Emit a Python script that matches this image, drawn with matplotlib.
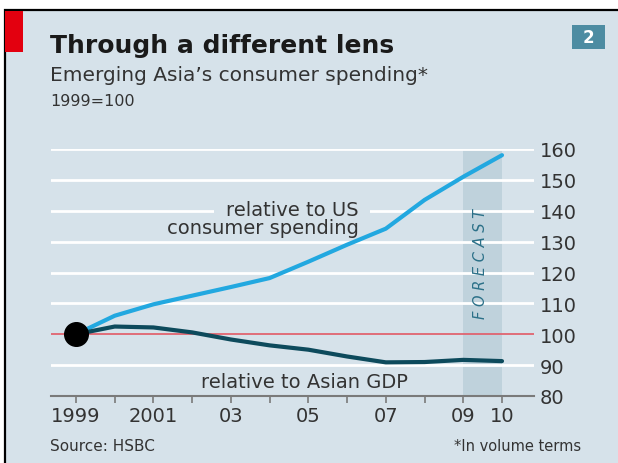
import matplotlib.pyplot as plt
from matplotlib.patches import Rectangle

years = [1999, 2000, 2001, 2002, 2003, 2004, 2005, 2006, 2007, 2008, 2009, 2010]
vs_us = [100, 106, 109.7, 112.5, 115.3, 118.2, 123.5, 129, 134.2, 143.5, 151, 158]
vs_gdp = [100, 102.5, 102.2, 100.6, 98.3, 96.4, 95, 92.8, 90.9, 91, 91.7, 91.3]
y_ticks = [80, 90, 100, 110, 120, 130, 140, 150, 160]
x_tick_pos = [1999, 2001, 2003, 2005, 2007, 2009, 2010]
x_tick_labels = ['1999', '2001', '03', '05', '07', '09', '10']
forecast = (2009, 2010)

W, H = 618, 464
BG = '#d6e2ea'
TXT = '#333333'
plt.rcParams['font.family'] = ['DejaVu Sans']

fig = plt.figure(figsize=(W / 100, H / 100), dpi=100, facecolor='white')

def fx(px):
    return px / W

def fy(py):
    return 1 - py / H

# panel background and border
fig.patches.append(Rectangle((fx(5), -0.1), 1.2, fy(11) + 0.1, transform=fig.transFigure,
                             facecolor=BG, edgecolor='black', lw=1.6, zorder=-2))
fig.patches.append(Rectangle((fx(5), fy(53)), fx(18), fy(12) - fy(53), transform=fig.transFigure,
                             facecolor='#e3000f', edgecolor='none', zorder=-1))
fig.patches.append(Rectangle((fx(572), fy(50)), fx(33), fy(26) - fy(50), transform=fig.transFigure,
                             facecolor='#4d8ca2', edgecolor='none', zorder=-1))
fig.text(fx(588.5), fy(38), '2', color='white', fontsize=12, fontweight='bold',
         ha='center', va='center')

fig.text(fx(50), fy(46), 'Through a different lens', fontsize=18, fontweight='bold',
         color='#1a1a1a', va='center')
fig.text(fx(50), fy(76), 'Emerging Asia\u2019s consumer spending*', fontsize=14.5,
         color=TXT, va='center')
fig.text(fx(50), fy(101), '1999=100', fontsize=11.5, color=TXT, va='center')
fig.text(fx(50), fy(447), 'Source: HSBC', fontsize=11, color=TXT, va='center')
fig.text(fx(581), fy(447), '*In volume terms', fontsize=10.5, color=TXT,
         va='center', ha='right')

# axes: 1999 at x=76, 2010 at x=502; 80 at y=397, 160 at y=150
per_year = (502 - 76) / 11
x0 = 1999 - (76 - 51) / per_year
x1 = 2010 + (534 - 502) / per_year
ax = fig.add_axes([fx(51), fy(397), fx(534) - fx(51), fy(150) - fy(397)])
ax.set_facecolor('none')
ax.set_zorder(2)
ax.set_xlim(x0, x1)
ax.set_ylim(80, 160)

ax.axvspan(forecast[0], forecast[1], color='#bfd2dc', lw=0, zorder=0)
for v in y_ticks[1:]:
    if v == 100:
        continue
    ax.axhline(v, color='white', lw=2, zorder=1)
ax.axhline(100, color='#e06470', lw=1.3, zorder=2)

ax.plot(years, vs_us, color='#22a8e0', lw=3, zorder=3, solid_capstyle='round')
ax.plot(years, vs_gdp, color='#0d4a5c', lw=3, zorder=3, solid_capstyle='round')
ax.plot([years[0]], [vs_us[0]], 'o', color='black', ms=17, zorder=4)

ax.text(2006.3, 140.5, 'relative to US', fontsize=14, color=TXT,
        ha='right', va='center', zorder=2,
        bbox=dict(facecolor=BG, edgecolor='none', boxstyle='square,pad=0.6'))
ax.text(2006.3, 134.7, 'consumer spending', fontsize=14, color=TXT,
        ha='right', va='center', zorder=2)
ax.text(2004.9, 84.8, 'relative to Asian GDP', fontsize=14, color=TXT,
        ha='center', va='center', zorder=2)
ax.text(2009.45, 123, 'F O R E C A S T', fontsize=10.5, color='#2b7088', style='italic',
        rotation=90, ha='center', va='center', zorder=2)

for s in ['top', 'right', 'left']:
    ax.spines[s].set_visible(False)
ax.spines['bottom'].set_color('#7a7a7a')
ax.spines['bottom'].set_linewidth(1.5)

ax.yaxis.tick_right()
ax.set_yticks(y_ticks)
ax.tick_params(axis='y', length=0, pad=4, labelsize=14, labelcolor=TXT)
ax.set_xticks(x_tick_pos)
ax.set_xticklabels(x_tick_labels)
ax.set_xticks(years, minor=True)
ax.tick_params(axis='x', which='both', direction='out', length=5, width=1.2, color='#7a7a7a')
ax.tick_params(axis='x', which='major', pad=2, labelsize=14, labelcolor=TXT)

fig.savefig('out.png', dpi=100, facecolor='white')
